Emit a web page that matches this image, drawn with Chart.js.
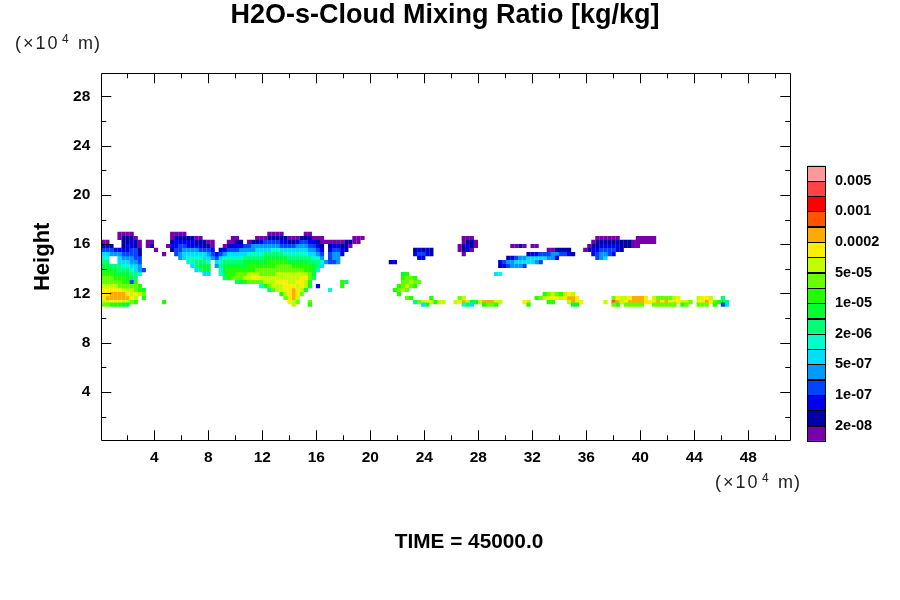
<!DOCTYPE html>
<html>
<head>
<meta charset="utf-8">
<title>H2O-s-Cloud Mixing Ratio</title>
<script src="https://cdn.jsdelivr.net/npm/chart.js@4/dist/chart.umd.min.js"></script>
<style>
  html, body { margin: 0; padding: 0; background: #fff; }
  canvas { display: block; }
</style>
</head>
<body>
<canvas id="cloudChart" width="900" height="600"></canvas>
<script>
// axis ticks, x10^4 m
const xMajorTicks = [4, 8, 12, 16, 20, 24, 28, 32, 36, 40, 44, 48];
const xMinorTicks = [2, 6, 10, 14, 18, 22, 26, 30, 34, 38, 42, 46, 50];
const yMajorTicks = [4, 8, 12, 16, 20, 24, 28];
const yMinorTicks = [2, 6, 10, 14, 18, 22, 26];

// colour levels, lowest first
const levelColors = ['#7700aa', '#0000aa', '#0000ee', '#0044ff', '#0099ff', '#00ddff',
  '#00ffcc', '#00ff77', '#00ff33', '#22ff00', '#66ff00', '#c0ff00',
  '#ffee00', '#ffaa00', '#ff5500', '#ff0000', '#ff4444', '#ff9999'];
const colorbarLabels = ['0.005', '0.001', '0.0002', '5e-05', '1e-05', '2e-06', '5e-07', '1e-07', '2e-08'];

// field: one list per height, each run is [start column, level per cell]
const gridXStart = 0.07;
const gridXStep = 0.3;
const rowHeights = [16.83, 16.5, 16.18, 15.85, 15.53, 15.2, 14.88, 14.55, 14.23, 13.9,
  13.58, 13.25, 12.93, 12.6, 12.28, 11.95, 11.63, 11.3, 11.1];
const rowRuns = [
  [[4, '0000'], [17, '0000'], [41, '0000'], [50, '00']],
  [[4, '01110'], [17, '01111100'], [32, '00'], [38, '00011111000111000'], [62, '000'], [89, '000'], [122, '000000'], [132, '00000']],
  [[0, '00'], [5, '11210'], [11, '00'], [17, '12222211100'], [31, '0011'], [36, '0112333322112332210000001100'], [89, '0110'], [121, '0111111111000000']],
  [[0, '221'], [5, '12210'], [11, '01'], [16, '022332222110'], [30, '0122233444444433334443321'], [56, '122110'], [88, '01210'], [101, '0010'], [106, '00'], [120, '0112222211100']],
  [[0, '3332222331'], [13, '0'], [17, '13344443332'], [29, '12333444455556655555554432'], [56, '23321'], [77, '12121'], [88, '0120'], [110, '001111'], [119, '0122333321']],
  [[0, '5544433331'], [15, '0'], [18, '3455555543'], [28, '234555556666777776666665543'], [56, '3442'], [77, '23321'], [89, '0'], [105, '122333443321'], [121, '234432']],
  [[0, '66'], [4, '544433'], [19, '456666554'], [28, '356666677777888888777777664'], [56, '344'], [78, '22'], [100, '1234455555442'], [122, '345']],
  [[0, '77'], [4, '555443'], [21, '667776'], [28, '5677777888888999998888877764'], [56, '334'], [71, '12'], [98, '23445555543']],
  [[0, '8877766554'], [22, '57888'], [28, '478888889999999aaaa99999875'], [98, '1234443']],
  [[0, '88887776543'], [23, '5788'], [29, '689999999aaaaaaaaaaaa9986']],
  [[0, '9998888776'], [25, '55'], [29, '6899aaabbbaaaabbbbbbbba8'], [74, '89'], [97, '56']],
  [[0, 'aaa999887'], [30, '79aaabbccbbbbbbbbbbcca7'], [74, '9aa9']],
  [[0, 'aaaaa9939'], [33, '789aaaabbbcccbbccb9'], [59, '97'], [74, 'aabaa']],
  [[0, 'bbbbaaaaa9'], [39, '69abbbcccbcb8'], [53, '2'], [59, '9'], [73, '9aba9']],
  [[0, 'cccccbbba9'], [10, '8'], [41, '7abbccdcb8'], [56, '6'], [72, '9aba']],
  [[0, 'ccddddcbcb'], [10, 'a'], [44, '9bcdca'], [73, '9'], [109, '9aba9bcb']],
  [[0, 'cddddddcb'], [10, '9'], [45, 'acdb'], [75, 'a9'], [81, '9'], [88, 'ab'], [107, '9'], [108, 'abcccbcddc'], [126, 'acb'], [129, 'bcdddc'], [136, 'baaaa'], [141, 'bc'], [147, 'bccb'], [153, '7']],
  [[0, 'bbcccbba9'], [15, '9'], [46, 'cba'], [51, 'a'], [77, '7'], [78, 'abcb9'], [83, 'bb'], [87, 'bcdb88'], [93, 'bdddcb'], [104, 'cb'], [110, '99'], [115, 'bdc'], [118, 'c'], [124, 'b'], [126, 'edb'], [129, 'cddddc'], [135, 'c'], [136, 'cdcdc'], [141, 'ccb'], [144, 'ba'], [147, 'ccdc'], [151, 'a9'], [153, '87']],
  [[0, 'aa99988'], [47, 'b'], [51, '9'], [79, '58'], [89, '675'], [94, '9aa9'], [105, '9'], [116, '88'], [126, 'a9'], [129, 'aaaaa'], [136, 'aaaaaa'], [141, 'a'], [143, '9a'], [147, 'aaa'], [151, '9'], [153, '35']]
];

// one scatter dataset per level, low levels painted first
const levelPoints = levelColors.map(() => []);
rowRuns.forEach((runs, r) => {
  runs.forEach(([startCol, cells]) => {
    [...cells].forEach((ch, i) => {
      levelPoints[parseInt(ch, 36)].push({
        x: gridXStart + (startCol + i + 0.5) * gridXStep,
        y: rowHeights[r]
      });
    });
  });
});

const FONT = '"Liberation Sans", Arial, sans-serif';

const framePlugin = {
  id: 'frame',
  afterDatasetsDraw(chart) {
    const { ctx, chartArea: a, scales } = chart;
    const crisp = v => Math.round(v) + 0.5;
    ctx.save();
    ctx.strokeStyle = '#000';
    ctx.lineWidth = 1;
    ctx.beginPath();
    ctx.rect(crisp(a.left), crisp(a.top), Math.round(a.right) - Math.round(a.left), Math.round(a.bottom) - Math.round(a.top));
    const xTick = (v, len) => {
      const p = crisp(scales.x.getPixelForValue(v));
      ctx.moveTo(p, a.bottom); ctx.lineTo(p, a.bottom - len);
      ctx.moveTo(p, a.top); ctx.lineTo(p, a.top + len);
    };
    const yTick = (v, len) => {
      const p = crisp(scales.y.getPixelForValue(v));
      ctx.moveTo(a.left, p); ctx.lineTo(a.left + len, p);
      ctx.moveTo(a.right, p); ctx.lineTo(a.right - len, p);
    };
    xMajorTicks.forEach(v => xTick(v, 10));
    xMinorTicks.forEach(v => xTick(v, 5));
    yMajorTicks.forEach(v => yTick(v, 10));
    yMinorTicks.forEach(v => yTick(v, 5));
    ctx.stroke();
    ctx.restore();
  }
};

function drawExponentNote(ctx, x, baseline) {
  ctx.textAlign = 'left';
  ctx.textBaseline = 'alphabetic';
  ctx.fillStyle = '#222';
  ctx.letterSpacing = '2px';
  ctx.font = '18px ' + FONT;
  ctx.fillText('(×10', x, baseline);
  ctx.letterSpacing = '1px';
  ctx.fillText('m)', x + 63, baseline);
  ctx.letterSpacing = '0px';
  ctx.font = '12px ' + FONT;
  ctx.fillText('4', x + 47, baseline - 6);
}

const annotationsPlugin = {
  id: 'annotations',
  afterDraw(chart) {
    const { ctx } = chart;
    ctx.save();
    ctx.fillStyle = '#000';
    ctx.textBaseline = 'middle';

    ctx.textAlign = 'center';
    ctx.font = 'bold 27px ' + FONT;
    ctx.fillText('H2O-s-Cloud Mixing Ratio [kg/kg]', 445, 16);
    ctx.font = 'bold 20.8px ' + FONT;
    ctx.fillText('TIME = 45000.0', 469, 542);

    drawExponentNote(ctx, 15, 49);
    drawExponentNote(ctx, 715, 488);

    // colour bar
    const barX = 807.5, barW = 18, barTop = 165.5, cellH = 15.3;
    const n = levelColors.length;
    ctx.lineWidth = 1;
    ctx.strokeStyle = '#000';
    levelColors.forEach((c, i) => {
      const top = barTop + (n - 1 - i) * cellH;
      ctx.fillStyle = c;
      ctx.fillRect(barX, top, barW, cellH);
      ctx.strokeRect(barX, Math.round(top) + 0.5, barW, Math.round(cellH));
    });
    ctx.fillStyle = '#000';
    ctx.textAlign = 'left';
    ctx.textBaseline = 'middle';
    ctx.font = 'bold 14.5px ' + FONT;
    colorbarLabels.forEach((t, i) => {
      ctx.fillText(t, 835, barTop + (i * 2 + 1) * cellH);
    });
    ctx.restore();
  }
};

new Chart(document.getElementById('cloudChart'), {
  type: 'scatter',
  data: {
    datasets: levelPoints.map((pts, i) => ({
      label: 'level ' + i,
      data: pts,
      backgroundColor: levelColors[i],
      pointStyle: 'rect',
      pointRadius: 2.97,
      pointBorderWidth: 0,
      pointHoverRadius: 2.97
    }))
  },
  options: {
    responsive: false,
    animation: false,
    devicePixelRatio: 1,
    layout: { padding: { left: 30, top: 73.3, right: 109.7, bottom: 0 } },
    plugins: { legend: { display: false }, tooltip: { enabled: false }, title: { display: false } },
    scales: {
      x: {
        type: 'linear',
        min: 0.07,
        max: 51.11,
        grid: { display: false },
        border: { display: false },
        afterBuildTicks: s => { s.ticks = xMajorTicks.map(v => ({ value: v })); },
        afterFit: s => { s.height = 159.7; },
        ticks: { color: '#000', padding: 0, maxRotation: 0, autoSkip: false, font: { family: FONT, size: 15.5, weight: 'bold' } }
      },
      y: {
        type: 'linear',
        min: 0.08,
        max: 29.87,
        grid: { display: false },
        border: { display: false },
        afterBuildTicks: s => { s.ticks = yMajorTicks.map(v => ({ value: v })); },
        afterFit: s => { s.width = 71.3; },
        title: { display: true, text: 'Height', color: '#000', padding: 0, font: { family: FONT, size: 22, weight: 'bold' } },
        ticks: { color: '#000', padding: 3, autoSkip: false, font: { family: FONT, size: 15.5, weight: 'bold' } }
      }
    }
  },
  plugins: [framePlugin, annotationsPlugin]
});
</script>
</body>
</html>
